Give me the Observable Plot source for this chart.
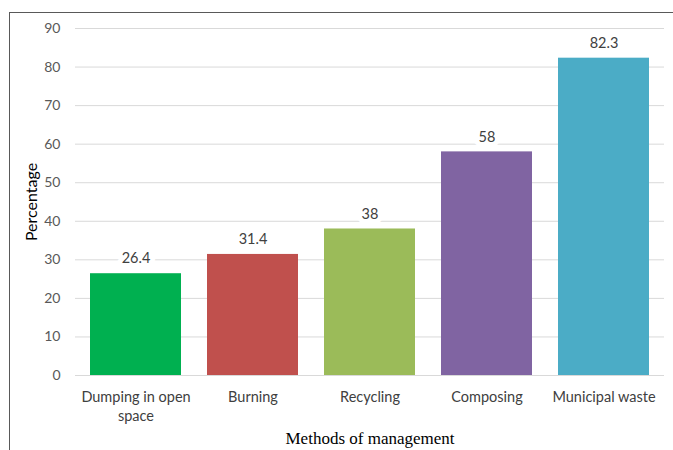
<!DOCTYPE html>
<html>
<head>
<meta charset="utf-8">
<script src="https://cdn.jsdelivr.net/npm/d3@7"></script>
<script src="https://cdn.jsdelivr.net/npm/@observablehq/plot@0.6"></script>
<style>
  html, body { margin: 0; padding: 0; background: #fff; }
  #wrap { position: relative; width: 673px; height: 450px; overflow: hidden; }
  #frame { position: absolute; left: 9px; top: 12px; right: -2px; bottom: -2px; border-left: 1px solid #595959; border-top: 1px solid #595959; pointer-events: none; }
  #chart { position: absolute; left: 0; top: 0; }
</style>
</head>
<body>
<div id="wrap"><div id="chart"></div><div id="frame"></div></div>
<script>
const categories = ["Dumping in open space", "Burning", "Recycling", "Composing", "Municipal waste"];
const tickLabels = ["Dumping in open\nspace", "Burning", "Recycling", "Composing", "Municipal waste"];
const values = [26.4, 31.4, 38, 58, 82.3];
const colors = ["#00B050", "#C0504D", "#9BBB59", "#8064A2", "#4BACC6"];
const yTicks = [0, 10, 20, 30, 40, 50, 60, 70, 80, 90];

const data = categories.map((c, i) => ({category: c, value: values[i], color: colors[i], label: String(values[i])}));
const font = "Lato, 'Open Sans', sans-serif";

const chart = Plot.plot({
  width: 673,
  height: 450,
  marginLeft: 75,
  marginRight: 9,
  marginTop: 28,
  marginBottom: 75,
  style: {fontFamily: font, background: "transparent"},
  x: {domain: categories, paddingInner: 0.22, paddingOuter: 0.11, label: null},
  y: {domain: [0, 90], label: null},
  marks: [
    Plot.ruleY(yTicks, {stroke: "#d9d9d9", strokeWidth: 1}),
    Plot.barY(data, {x: "category", y: "value", fill: "color"}),
    Plot.text(data, {x: "category", y: "value", text: "label", dy: -15, fontSize: 14.5, fill: "#404040", stroke: "white", strokeWidth: 10, fontFamily: font}),
    Plot.axisY({ticks: yTicks, tickSize: 0, tickPadding: 15, fontSize: 14, color: "#595959", label: null}),
    Plot.axisX({tickSize: 0, tickPadding: 13, fontSize: 14.5, color: "#404040", label: null, lineHeight: 1.3,
      tickFormat: (d) => tickLabels[categories.indexOf(d)]}),
    Plot.text(["Percentage"], {frameAnchor: "left", textAnchor: "middle", dx: -44, rotate: -90, fontSize: 16, fill: "#000", fontFamily: font}),
    Plot.text(["Methods of management"], {frameAnchor: "bottom", dy: 68, fontSize: 17, fill: "#000", fontFamily: "'Liberation Serif', 'Times New Roman', serif"})
  ]
});
document.getElementById("chart").appendChild(chart);
</script>
</body>
</html>
